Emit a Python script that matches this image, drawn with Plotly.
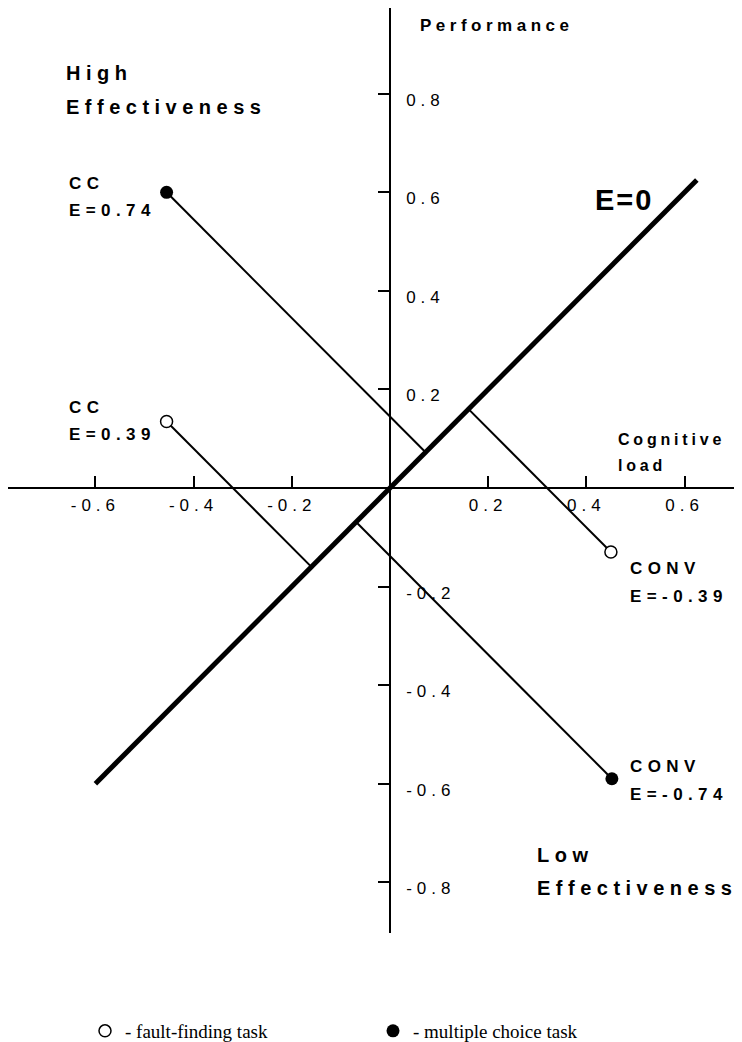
import plotly.graph_objects as go

# measured values: cognitive load (x) vs performance (y)
labels = ["CC", "CC", "CONV", "CONV"]
effectiveness = ["E=0.74", "E=0.39", "E=-0.39", "E=-0.74"]
task = ["multiple choice", "fault-finding", "fault-finding", "multiple choice"]
cognitive_load = [-0.455, -0.455, 0.45, 0.452]
performance = [0.60, 0.135, -0.13, -0.59]

e0_line = [-0.6, 0.625]

x_ticks = [-0.6, -0.4, -0.2, 0.2, 0.4, 0.6]
y_ticks = [0.8, 0.6, 0.4, 0.2, -0.2, -0.4, -0.6, -0.8]

W, H = 742, 1042
OFF = 8  # page body margin, content is laid out in page pixels
SANS = "Liberation Sans"


def spaced(s, px):
    return '<span style="letter-spacing:%spx">%s</span>' % (px, s)


def paper(px, py):
    return (px - OFF) / W, 1 - (py - OFF) / H


fig = go.Figure()

# E=0 diagonal
fig.add_trace(go.Scatter(x=e0_line, y=e0_line, mode="lines",
                         line=dict(color="black", width=5), showlegend=False, hoverinfo="skip"))

# perpendiculars from each point to the E=0 line
cx, cy = [], []
for x, y in zip(cognitive_load, performance):
    foot = (x + y) / 2
    cx += [x, foot, None]
    cy += [y, foot, None]
fig.add_trace(go.Scatter(x=cx, y=cy, mode="lines",
                         line=dict(color="black", width=2), showlegend=False, hoverinfo="skip"))

ff = [i for i, t in enumerate(task) if t == "fault-finding"]
mc = [i for i, t in enumerate(task) if t == "multiple choice"]
fig.add_trace(go.Scatter(x=[cognitive_load[i] for i in ff], y=[performance[i] for i in ff],
                         mode="markers", name="- fault-finding task",
                         marker=dict(size=12, color="white", line=dict(color="black", width=1.5))))
fig.add_trace(go.Scatter(x=[cognitive_load[i] for i in mc], y=[performance[i] for i in mc],
                         mode="markers", name="- multiple choice task",
                         marker=dict(size=13, color="black")))

# text: (string, left px, center px, size, spacing)
texts = [
    ("Performance", 418, 25, 17, 4.5),
    ("High", 64, 73, 20, 5.5),
    ("Effectiveness", 64, 107, 20, 5.5),
    ("Cognitive", 616, 439, 16, 3.8),
    ("load", 616, 465, 16, 3.8),
    ("Low", 535, 855, 20, 5.5),
    ("Effectiveness", 535, 888, 20, 5.5),
    ("E=0", 593, 200, 29, 2),
]
label_px = [(67, 183), (67, 407), (628, 568), (628, 766)]
for (lx, ly), name, eff in zip(label_px, labels, effectiveness):
    texts.append((name, lx, ly, 17, 5.4))
    texts.append((eff, lx, ly + 28, 17, 5.4))

for s, lx, ly, size, sp in texts:
    ax, ay = paper(lx, ly)
    fig.add_annotation(x=ax, y=ay, xref="paper", yref="paper",
                       xanchor="left", yanchor="middle", showarrow=False,
                       text=spaced(s, sp),
                       font=dict(family=SANS, size=size, color="black", weight="bold"))

axis_common = dict(showline=True, linecolor="black", linewidth=1.5, ticks="inside",
                   ticklen=11, tickwidth=1.5, tickcolor="black", showgrid=False,
                   zeroline=False, tickfont=dict(family=SANS, size=17, color="black"))

# page pixels: x axis spans 8..742 with 0 at 390; y axis spans 8..933 with 0 at 488
x_dom = paper(742, 0)[0]
y_dom = paper(0, 933)[1]
fig.update_layout(
    width=W, height=H,
    margin=dict(l=0, r=0, t=0, b=0),
    plot_bgcolor="white", paper_bgcolor="white",
    xaxis=dict(domain=[0, x_dom], range=[-0.778, 0.717], anchor="free",
               position=paper(0, 488)[1], side="bottom",
               tickvals=x_ticks, ticktext=[spaced(f"{v:.1f}", 5) for v in x_ticks],
               ticklabelstandoff=2, **axis_common),
    yaxis=dict(domain=[y_dom, 1], range=[-0.903, 0.974], anchor="free",
               position=paper(390, 0)[0], side="right",
               tickvals=y_ticks, ticktext=[spaced(f"{v:.1f}", 5) for v in y_ticks],
               ticklabelstandoff=12, ticklabelshift=6, **axis_common),
    legend=dict(orientation="h", x=paper(85, 0)[0], y=paper(0, 1031)[1],
                xanchor="left", yanchor="middle", entrywidth=243,
                font=dict(family="Liberation Serif", size=19, color="black")),
    showlegend=True,
)

fig.write_html("out.html")
